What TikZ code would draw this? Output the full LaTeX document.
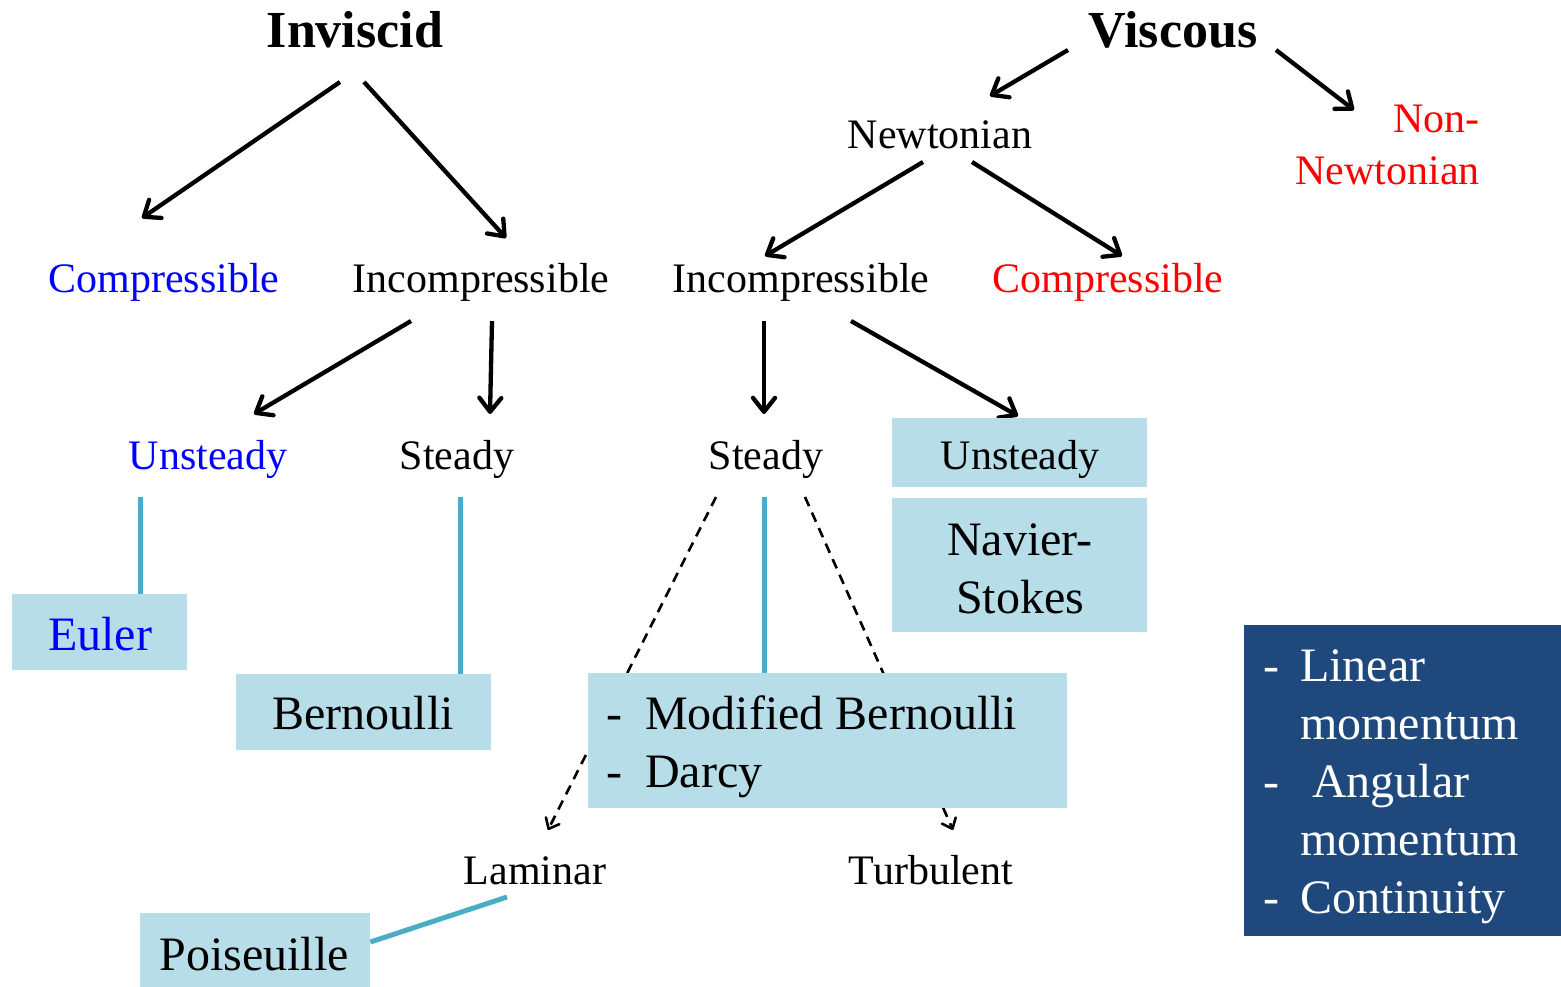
\documentclass[tikz,border=0pt]{standalone}
\usepackage{fontspec}
\setmainfont{Liberation Serif}
\usetikzlibrary{arrows.meta}
\definecolor{lblue}{HTML}{B7DDE8}
\definecolor{tealln}{HTML}{4BACC6}
\definecolor{dblue}{HTML}{1F497D}
\definecolor{pblue}{RGB}{0,0,255}
\definecolor{pred}{RGB}{255,0,0}
\begin{document}
\begin{tikzpicture}[x=1pt,y=-1pt,
 txt/.style={inner sep=0pt, anchor=base, font=\fontsize{42}{52}\selectfont},
 big/.style={inner sep=0pt, anchor=base, font=\fontsize{48}{58}\selectfont},
 ttl/.style={inner sep=0pt, anchor=base, font=\fontsize{52}{60}\selectfont\bfseries},
 lbox/.style={fill=lblue, inner sep=0pt, anchor=north west},
 arr/.style={line width=4.3pt, -{Straight Barb[length=14pt,width=22pt,round]}},
 darr/.style={line width=2.6pt, dash pattern=on 10pt off 7pt, -{Straight Barb[length=9pt,width=15pt,round]}},
 tline/.style={line width=5pt, tealln},
]
\useasboundingbox (0,0) rectangle (1561,986);

% titles and text nodes
\node[ttl] (inv) at (355,47) {Inviscid};
\node[ttl] (visc) at (1173,47) {Viscous};
\node[txt] (newt) at (940,148) {Newtonian};
\node[txt, anchor=base east, text=pred] (nonnewt) at (1480,132)
  {\begin{tabular}[t]{@{}r@{}}Non-\\Newtonian\end{tabular}};
\node[txt, text=pblue] (comp1) at (164,292) {Compressible};
\node[txt] (incomp1) at (481,292) {Incompressible};
\node[txt] (incomp2) at (801,292) {Incompressible};
\node[txt, text=pred] (comp2) at (1108,292) {Compressible};
\node[txt, text=pblue] (unst1) at (208,469) {Unsteady};
\node[txt] (st1) at (457,469) {Steady};
\node[txt] (st2) at (766,469) {Steady};
\node[txt] (lam) at (535,884) {Laminar};
\node[txt] (turb) at (931,884) {Turbulent};

% arrow endpoints
\coordinate (a1) at (340,82);   \coordinate (a1e) at (142,218);
\coordinate (a2) at (364,82);   \coordinate (a2e) at (506,238);
\coordinate (b1) at (1068,50);  \coordinate (b1e) at (990,96);
\coordinate (b2) at (1276,50);  \coordinate (b2e) at (1354,110);
\coordinate (c1) at (923,162);  \coordinate (c1e) at (765,256);
\coordinate (c2) at (972,162);  \coordinate (c2e) at (1122,256);
\coordinate (d1) at (411,321);  \coordinate (d1e) at (254,414);
\coordinate (d2) at (492,321);  \coordinate (d2e) at (490,414);
\coordinate (e1) at (764,321);  \coordinate (e1e) at (764,414);
\coordinate (e2) at (851,321);  \coordinate (e2e) at (1018,416);
\coordinate (f1) at (716,497);  \coordinate (f1e) at (548,830);
\coordinate (f2) at (805,497);  \coordinate (f2e) at (953,830);
\coordinate (g1) at (140,497);
\coordinate (g2) at (460,497);
\coordinate (g3) at (764,497);
\coordinate (g4) at (507,897);

\draw[arr] (a1) -- (a1e);
\draw[arr] (a2) -- (a2e);
\draw[arr] (b1) -- (b1e);
\draw[arr] (b2) -- (b2e);
\draw[arr] (c1) -- (c1e);
\draw[arr] (c2) -- (c2e);
\draw[arr] (d1) -- (d1e);
\draw[arr] (d2) -- (d2e);
\draw[arr] (e1) -- (e1e);
\draw[arr] (e2) -- (e2e);
\draw[darr] (f1) -- (f1e);
\draw[darr] (f2) -- (f2e);

% boxes
\node[lbox, minimum width=255pt, minimum height=69pt] (unst2) at (892,418) {};
\node[txt] at (1020,469) {Unsteady};
\node[lbox, minimum width=255pt, minimum height=134pt] (ns) at (892,498) {};
\node[big] at (1020,555) {\begin{tabular}[t]{@{}c@{}}Navier-\\Stokes\end{tabular}};
\node[lbox, minimum width=175pt, minimum height=76pt] (euler) at (12,594) {};
\node[big, text=pblue] at (100,650) {Euler};
\node[lbox, minimum width=255pt, minimum height=76pt] (bern) at (236,674) {};
\node[big] at (363,729) {Bernoulli};
\node[lbox, minimum width=479pt, minimum height=135pt] (mb) at (588,673) {};
\node[big, anchor=base west] at (606,729)
  {\begin{tabular}[t]{@{}l@{\hspace{23pt}}l@{}}-&Modified Bernoulli\\-&Darcy\end{tabular}};
\node[lbox, minimum width=230pt, minimum height=80pt] (pois) at (140,913) {};
\node[big] at (254,970) {Poiseuille};
\node[lbox, fill=dblue, minimum width=317pt, minimum height=311pt] (cons) at (1244,625) {};
\node[big, anchor=base west, text=white] at (1263,681)
  {\begin{tabular}[t]{@{}l@{\hspace{21pt}}l@{}}-&Linear\\&momentum\\-&\ Angular\\&momentum\\-&Continuity\end{tabular}};

% teal connectors
\draw[tline] (g1) -- (euler.north -| g1);
\draw[tline] (g2) -- (bern.north -| g2);
\draw[tline] (g3) -- (mb.north -| g3);
\draw[tline] (g4) -- (pois.east |- 0,942);
\end{tikzpicture}
\end{document}
